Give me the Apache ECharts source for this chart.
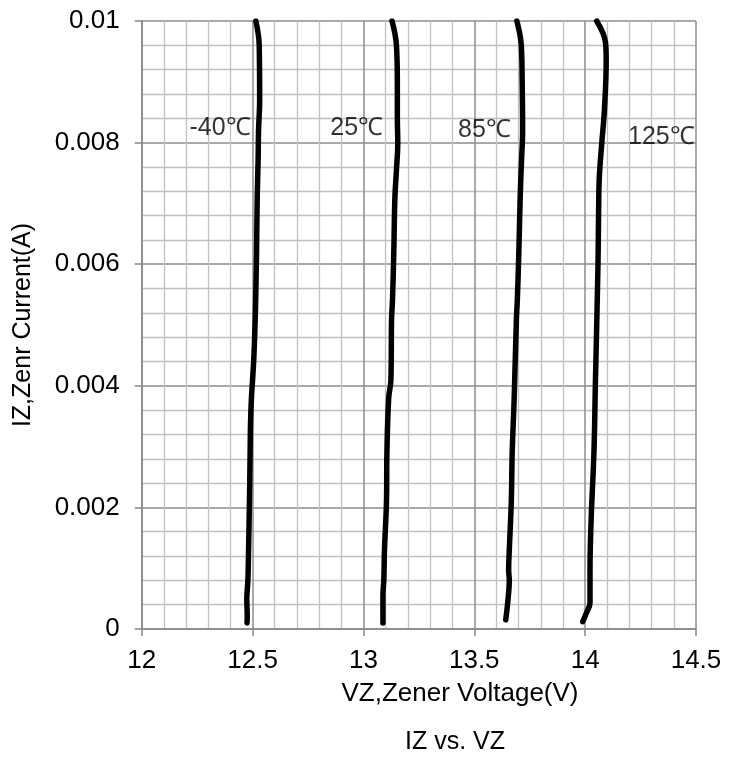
<!DOCTYPE html>
<html>
<head>
<meta charset="utf-8">
<script src="https://cdn.jsdelivr.net/npm/echarts@6/dist/echarts.min.js"></script>
<style>html,body{margin:0;padding:0;background:#fff}#c{width:740px;height:760px}</style>
</head>
<body>
<div id="c"></div>
<script>
var xTicks = [12, 12.5, 13, 13.5, 14, 14.5];
var yTicks = [0, 0.002, 0.004, 0.006, 0.008, 0.01];

var seriesNames = ['-40℃', '25℃', '85℃', '125℃'];

var vzM40 = [12.515,12.530,12.532,12.527,12.525,12.521,12.518,12.514,12.512,12.505,12.495,12.491,12.489,12.486,12.482,12.479,12.474,12.476,12.475];
var izM40 = [0.0100,0.0096,0.0087,0.0082,0.0077,0.0071,0.0062,0.0054,0.0051,0.0044,0.0038,0.0034,0.0029,0.0021,0.0013,0.0008,0.0005,0.0002,0.0001];

var vz25 = [13.129,13.149,13.153,13.153,13.155,13.149,13.142,13.137,13.131,13.127,13.124,13.114,13.106,13.104,13.095,13.092,13.088,13.088];
var iz25 = [0.0100,0.0096,0.0090,0.0084,0.0080,0.00755,0.0071,0.0062,0.0054,0.0051,0.0041,0.0038,0.0029,0.0021,0.0013,0.0008,0.00056,0.0001];

var vz85 = [13.692,13.712,13.716,13.718,13.713,13.707,13.701,13.694,13.690,13.680,13.671,13.667,13.658,13.655,13.658,13.652,13.642];
var iz85 = [0.0100,0.0096,0.0090,0.0082,0.0077,0.0071,0.0062,0.0054,0.0051,0.0038,0.0029,0.0021,0.0013,0.00097,0.0008,0.00048,0.00015];

var vz125 = [14.052,14.092,14.095,14.087,14.075,14.064,14.061,14.058,14.046,14.040,14.027,14.022,14.022,14.005,13.989];
var iz125 = [0.0100,0.00964,0.00936,0.00854,0.00799,0.00743,0.00694,0.0060,0.0040,0.00294,0.00179,0.00097,0.00043,0.00026,0.00012];

var labelPos = [[12.353, 0.00824], [12.970, 0.00824], [13.546, 0.00821], [14.344, 0.00809]];

function pairs(xs, ys) { return xs.map(function (v, i) { return [v, ys[i]]; }); }
var curves = [pairs(vzM40, izM40), pairs(vz25, iz25), pairs(vz85, iz85), pairs(vz125, iz125)];

var FONT = 'Liberation Sans, Arial, sans-serif';
var series = curves.map(function (d, i) {
  return {
    name: seriesNames[i], type: 'line', data: d, smooth: 0.4, symbol: 'none',
    lineStyle: { color: '#000', width: 5.5, cap: 'round', join: 'round' }, z: 5
  };
});
series.push({
  type: 'scatter', symbolSize: 0, z: 6,
  data: labelPos.map(function (p, i) { return { value: p, name: seriesNames[i] }; }),
  label: { show: true, position: 'inside', formatter: '{b}', color: '#000', fontSize: 25, fontFamily: FONT }
});

var chart = echarts.init(document.getElementById('c'));
chart.setOption({
  animation: false,
  backgroundColor: '#fff',
  title: [
    { text: 'IZ vs. VZ', left: 450, top: 725, textAlign: 'center',
      textStyle: { fontSize: 25, fontWeight: 'normal', color: '#000', fontFamily: FONT } },
    { text: 'VZ,Zener Voltage(V)', left: 455, top: 676, textAlign: 'center',
      textStyle: { fontSize: 26, fontWeight: 'normal', color: '#000', fontFamily: FONT } }
  ],
  grid: { left: 141.7, right: 44, top: 21, bottom: 131 },
  xAxis: {
    type: 'value', min: 12, max: 14.5, interval: 0.5,
    axisLine: { show: true, lineStyle: { color: '#888', width: 1.5 } },
    axisTick: { show: true, length: 7, inside: false, lineStyle: { color: '#888', width: 1.5 } },
    minorTick: { show: false, splitNumber: 5 },
    splitLine: { show: true, lineStyle: { color: '#8c8c8c', width: 1.5 } },
    minorSplitLine: { show: true, lineStyle: { color: '#c0c0c0', width: 1.3 } },
    axisLabel: { fontSize: 26, color: '#000', fontFamily: FONT, margin: 19,
      formatter: function (v) { return String(Math.round(v * 10) / 10); } }
  },
  yAxis: {
    type: 'value', min: 0, max: 0.01, interval: 0.002,
    name: 'IZ,Zenr Current(A)', nameLocation: 'middle', nameGap: 106,
    nameTextStyle: { fontSize: 25, color: '#000', fontFamily: FONT },
    axisLine: { show: true, lineStyle: { color: '#888', width: 1.5 } },
    axisTick: { show: true, length: 7, lineStyle: { color: '#888', width: 1.5 } },
    splitLine: { show: true, lineStyle: { color: '#8c8c8c', width: 1.5 } },
    minorTick: { show: false, splitNumber: 5 },
    minorSplitLine: { show: true, lineStyle: { color: '#c0c0c0', width: 1.3 } },
    axisLabel: { fontSize: 26, color: '#000', fontFamily: FONT, margin: 22,
      formatter: function (v) { return String(Math.round(v * 1000) / 1000); } }
  },
  series: series
});
</script>
</body>
</html>
